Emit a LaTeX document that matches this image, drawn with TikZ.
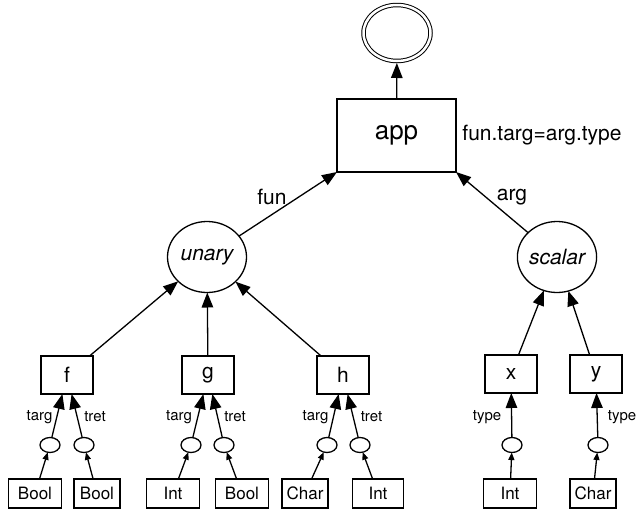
\documentclass[tikz,border=0pt]{standalone}
\usepackage{fontspec}
\setmainfont{TeX Gyre Heros}
\usetikzlibrary{arrows.meta,shapes.geometric}
\tikzset{
  every node/.style={inner sep=0pt, outer sep=0pt},
  base/.style={line width=1.3pt},
  bigarr/.style={base, -{Triangle[length=15pt,width=11.5pt]}},
  smallarr/.style={base, -{Triangle[length=7.5pt,width=6pt]}},
  dbl/.style={ellipse, draw, line width=1pt, double, double distance=2.5pt, minimum width=67pt, minimum height=56pt},
  appbox/.style={draw, base, minimum width=119pt, minimum height=73pt, font=\fontsize{26}{30}\selectfont},
  circ/.style={ellipse, draw, base, minimum width=79pt, minimum height=71pt, font=\fontsize{21}{25}\selectfont\itshape},
  midbox/.style={draw, base, minimum width=52pt, minimum height=38pt, font=\fontsize{21}{25}\selectfont},
  dot/.style={ellipse, draw, base, minimum width=20pt, minimum height=15pt},
  leaf/.style={draw, base, minimum height=29pt, font=\fontsize{17}{20}\selectfont},
  elab/.style={font=\fontsize{15}{18}\selectfont},
  lab/.style={font=\fontsize{21}{25}\selectfont},
}
\begin{document}
\begin{tikzpicture}[x=1pt,y=-1pt]
\useasboundingbox (0,0) rectangle (637,509);
% top
\node[dbl] (top) at (397,33) {};
\node[appbox] (app) at (396.5,135.5) {app};
\node[lab] (cond) at (542,135) {fun.targ=arg.type};
\node[circ] (unary) at (207,257) {unary};
\node[circ] (scalar) at (557,257) {scalar};
% mid boxes
\node[midbox] (f) at (67,375) {f};
\node[midbox] (g) at (208,375) {g};
\node[midbox] (h) at (343,375) {h};
\node[midbox] (x) at (511,374) {x};
\node[midbox] (y) at (596,374) {y};
% dots
\node[dot] (f1) at (50,445) {};
\node[dot] (f2) at (84,445) {};
\node[dot] (g1) at (191,445) {};
\node[dot] (g2) at (224,445) {};
\node[dot] (h1) at (327,445) {};
\node[dot] (h2) at (360,445) {};
\node[dot] (x1) at (512,445) {};
\node[dot] (y1) at (598,445) {};
% leaves
\node[leaf, minimum width=53pt] (b1) at (35,493.5) {Bool};
\node[leaf, minimum width=46pt] (b2) at (97,493.5) {Bool};
\node[leaf, minimum width=53pt] (b3) at (173,493.5) {Int};
\node[leaf, minimum width=53pt] (b4) at (242,493.5) {Bool};
\node[leaf, minimum width=46pt] (b5) at (305,493.5) {Char};
\node[leaf, minimum width=51pt] (b6) at (378,493.5) {Int};
\node[leaf, minimum width=53pt] (b7) at (510,493.5) {Int};
\node[leaf, minimum width=46pt] (b8) at (593,493.5) {Char};
% edges upward
\draw[bigarr, shorten >=2pt] (app) -- (top);
\draw[bigarr] (unary) -- (app.south west);
\draw[bigarr] (scalar) -- (app.south east);
\draw[bigarr] (f) -- (unary);
\draw[bigarr] (g) -- (unary);
\draw[bigarr] (h) -- (unary);
\draw[bigarr] (x) -- (scalar);
\draw[bigarr] (y) -- (scalar);
\draw[bigarr] (f1) -- (f);
\draw[bigarr] (f2) -- (f);
\draw[bigarr] (g1) -- (g);
\draw[bigarr] (g2) -- (g);
\draw[bigarr] (h1) -- (h);
\draw[bigarr] (h2) -- (h);
\draw[bigarr] (x1) -- (x);
\draw[bigarr] (y1) -- (y);
\draw[smallarr] (b1) -- (f1);
\draw[smallarr] (b2) -- (f2);
\draw[smallarr] (b3) -- (g1);
\draw[smallarr] (b4) -- (g2);
\draw[smallarr] (b5) -- (h1);
\draw[smallarr] (b6) -- (h2);
\draw[smallarr] (b7) -- (x1);
\draw[smallarr] (b8) -- (y1);
% labels
\node[lab] (lfun) at (272,197) {fun};
\node[lab] (larg) at (512,197) {arg};
\node[elab] (l1) at (39.5,417) {targ};
\node[elab] (l2) at (95,417) {tret};
\node[elab] (l3) at (179,417) {targ};
\node[elab] (l4) at (235,417) {tret};
\node[elab] (l5) at (315.5,417) {targ};
\node[elab] (l6) at (371.5,417) {tret};
\node[elab] (l7) at (487,417) {type};
\node[elab] (l8) at (622,417) {type};
\end{tikzpicture}
\end{document}
